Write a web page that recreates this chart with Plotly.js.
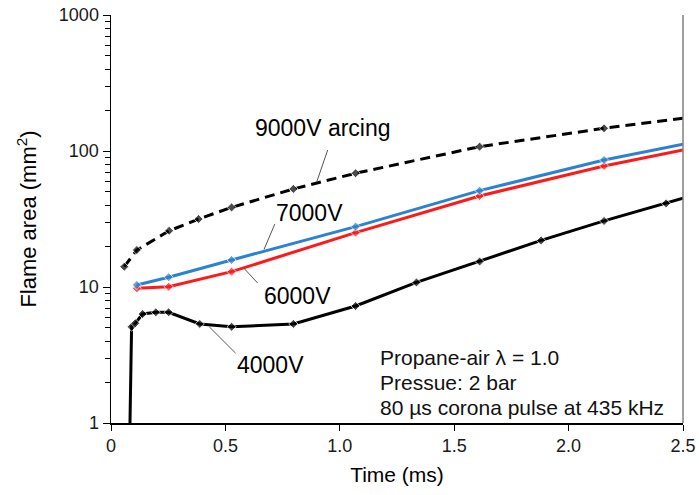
<!DOCTYPE html>
<html>
<head>
<meta charset="utf-8">
<script src="https://cdn.plot.ly/plotly-3.0.1.min.js"></script>
<style>html,body{margin:0;padding:0;background:#fff;}#chart{width:699px;height:495px;}</style>
</head>
<body>
<div id="chart"></div>
<script>
// ---- data ----
const time9000 = [0.058, 0.113, 0.254, 0.383, 0.527, 0.797, 1.069, 1.611, 2.155, 2.5];
const area9000 = [14.1, 18.7, 25.9, 31.6, 38.5, 52.6, 68.6, 107.6, 146.9, 174];
const time7000 = [0.113, 0.252, 0.527, 1.069, 1.611, 2.155, 2.5];
const area7000 = [10.35, 11.8, 15.8, 27.8, 51.1, 85.9, 112];
const time6000 = [0.113, 0.252, 0.527, 1.069, 1.611, 2.155, 2.5];
const area6000 = [9.78, 10.05, 12.97, 25.1, 46.7, 77.6, 101.7];
const time4000 = [0.080, 0.090, 0.106, 0.138, 0.196, 0.252, 0.388, 0.527, 0.797, 1.069, 1.335, 1.611, 1.880, 2.155, 2.426, 2.5];
const area4000 = [0.5, 5.1, 5.41, 6.33, 6.52, 6.52, 5.35, 5.1, 5.35, 7.25, 10.8, 15.4, 22.0, 30.6, 41.2, 44.9];
const xTickVals = [0, 0.5, 1.0, 1.5, 2.0, 2.5];
const xTickText = ['0', '0.5', '1.0', '1.5', '2.0', '2.5'];
const yTickVals = [1, 10, 100, 1000];
const yTickText = ['1', '10', '100', '1000'];
const seriesLabels = ['9000V arcing', '7000V', '6000V', '4000V'];
const infoLines = ['Propane-air λ = 1.0', 'Pressue: 2 bar', '80 µs corona pulse at 435 kHz'];

const FONT = 'Liberation Sans, Arial, sans-serif';
function sizes(n, first, last) {
  const s = new Array(n).fill(7);
  if (first) s[0] = 0;
  if (last) s[n - 1] = 0;
  return s;
}
const p10 = v => Math.pow(10, v);

const traces = [
  {x: time4000, y: area4000, mode: 'lines+markers', line: {color: '#000000', width: 3},
   marker: {symbol: 'diamond', size: sizes(time4000.length, true, true), color: '#000000'}},
  {x: time6000, y: area6000, mode: 'lines+markers', line: {color: '#ff1a1a', width: 3},
   marker: {symbol: 'diamond', size: sizes(time6000.length, false, true), color: '#ff1a1a'}},
  {x: time7000, y: area7000, mode: 'lines+markers', line: {color: '#2a82d0', width: 3},
   marker: {symbol: 'diamond', size: sizes(time7000.length, false, true), color: '#2a82d0'}},
  {x: time9000, y: area9000, mode: 'lines+markers', line: {color: '#000000', width: 3, dash: '10px,6px'},
   marker: {symbol: 'diamond', size: sizes(time9000.length, false, true), color: '#000000'}}
];

const leaderColor = '#555555';
function leader(x0, ly0, x1, ly1) {
  return {type: 'line', xref: 'x', yref: 'y', x0: x0, y0: p10(ly0), x1: x1, y1: p10(ly1),
          line: {color: leaderColor, width: 1}};
}
const shapes = [
  {type: 'line', xref: 'paper', yref: 'paper', x0: 1, x1: 1, y0: 0, y1: 1, line: {color: '#808080', width: 1.5}},
  leader(0.947, 2.007, 0.899, 1.772),
  leader(0.716, 1.463, 0.669, 1.277),
  leader(0.576, 1.147, 0.641, 1.029),
  leader(0.429, 0.708, 0.545, 0.513)
];

const labelFont = {family: FONT, size: 23, color: '#000'};
const infoFont = {family: FONT, size: 21, color: '#111'};
const infoX = (378 - 111) / 572;
const annotations = [
  {xref: 'x', yref: 'y', x: 0.925, y: 2.171, text: seriesLabels[0], showarrow: false, font: labelFont},
  {xref: 'x', yref: 'y', x: 0.868, y: 1.544, text: seriesLabels[1], showarrow: false, font: labelFont},
  {xref: 'x', yref: 'y', x: 0.816, y: 0.934, text: seriesLabels[2], showarrow: false, font: labelFont},
  {xref: 'x', yref: 'y', x: 0.698, y: 0.426, text: seriesLabels[3], showarrow: false, font: labelFont},
  {xref: 'paper', yref: 'paper', x: infoX, y: (423 - 357) / 408, xanchor: 'left', yanchor: 'middle',
   text: infoLines[0], showarrow: false, font: infoFont},
  {xref: 'paper', yref: 'paper', x: infoX, y: (423 - 382) / 408, xanchor: 'left', yanchor: 'middle',
   text: infoLines[1], showarrow: false, font: infoFont},
  {xref: 'paper', yref: 'paper', x: infoX, y: (423 - 407) / 408, xanchor: 'left', yanchor: 'middle',
   text: infoLines[2], showarrow: false, font: infoFont}
];

const layout = {
  width: 699, height: 495,
  margin: {l: 111, r: 16, t: 15, b: 72},
  paper_bgcolor: '#fff', plot_bgcolor: '#fff',
  showlegend: false,
  font: {family: FONT, color: '#111'},
  xaxis: {
    range: [0, 2.5], tickvals: xTickVals, ticktext: xTickText,
    showgrid: false, zeroline: false, showline: true, linecolor: '#000', linewidth: 1.5,
    ticks: 'outside', ticklen: 6, tickcolor: '#000', tickwidth: 1,
    tickfont: {family: FONT, size: 18, color: '#1a1a1a'},
    title: {text: 'Time (ms)', font: {family: FONT, size: 21, color: '#000'}, standoff: 12}
  },
  yaxis: {
    type: 'log', range: [0, 3], tickvals: yTickVals, ticktext: yTickText,
    showgrid: false, zeroline: false, showline: true, linecolor: '#000', linewidth: 1.5,
    ticks: 'outside', ticklen: 7, tickcolor: '#000', tickwidth: 1,
    minor: {ticks: 'outside', ticklen: 5, tickcolor: '#000', tickwidth: 1, dtick: 'D1', showgrid: false},
    tickfont: {family: FONT, size: 18, color: '#1a1a1a'},
    title: {text: 'Flame area (mm<sup>2</sup>)', font: {family: FONT, size: 22, color: '#000'}, standoff: 16}
  },
  shapes: shapes,
  annotations: annotations
};

Plotly.newPlot('chart', traces, layout, {displayModeBar: false, staticPlot: true});
</script>
</body>
</html>
